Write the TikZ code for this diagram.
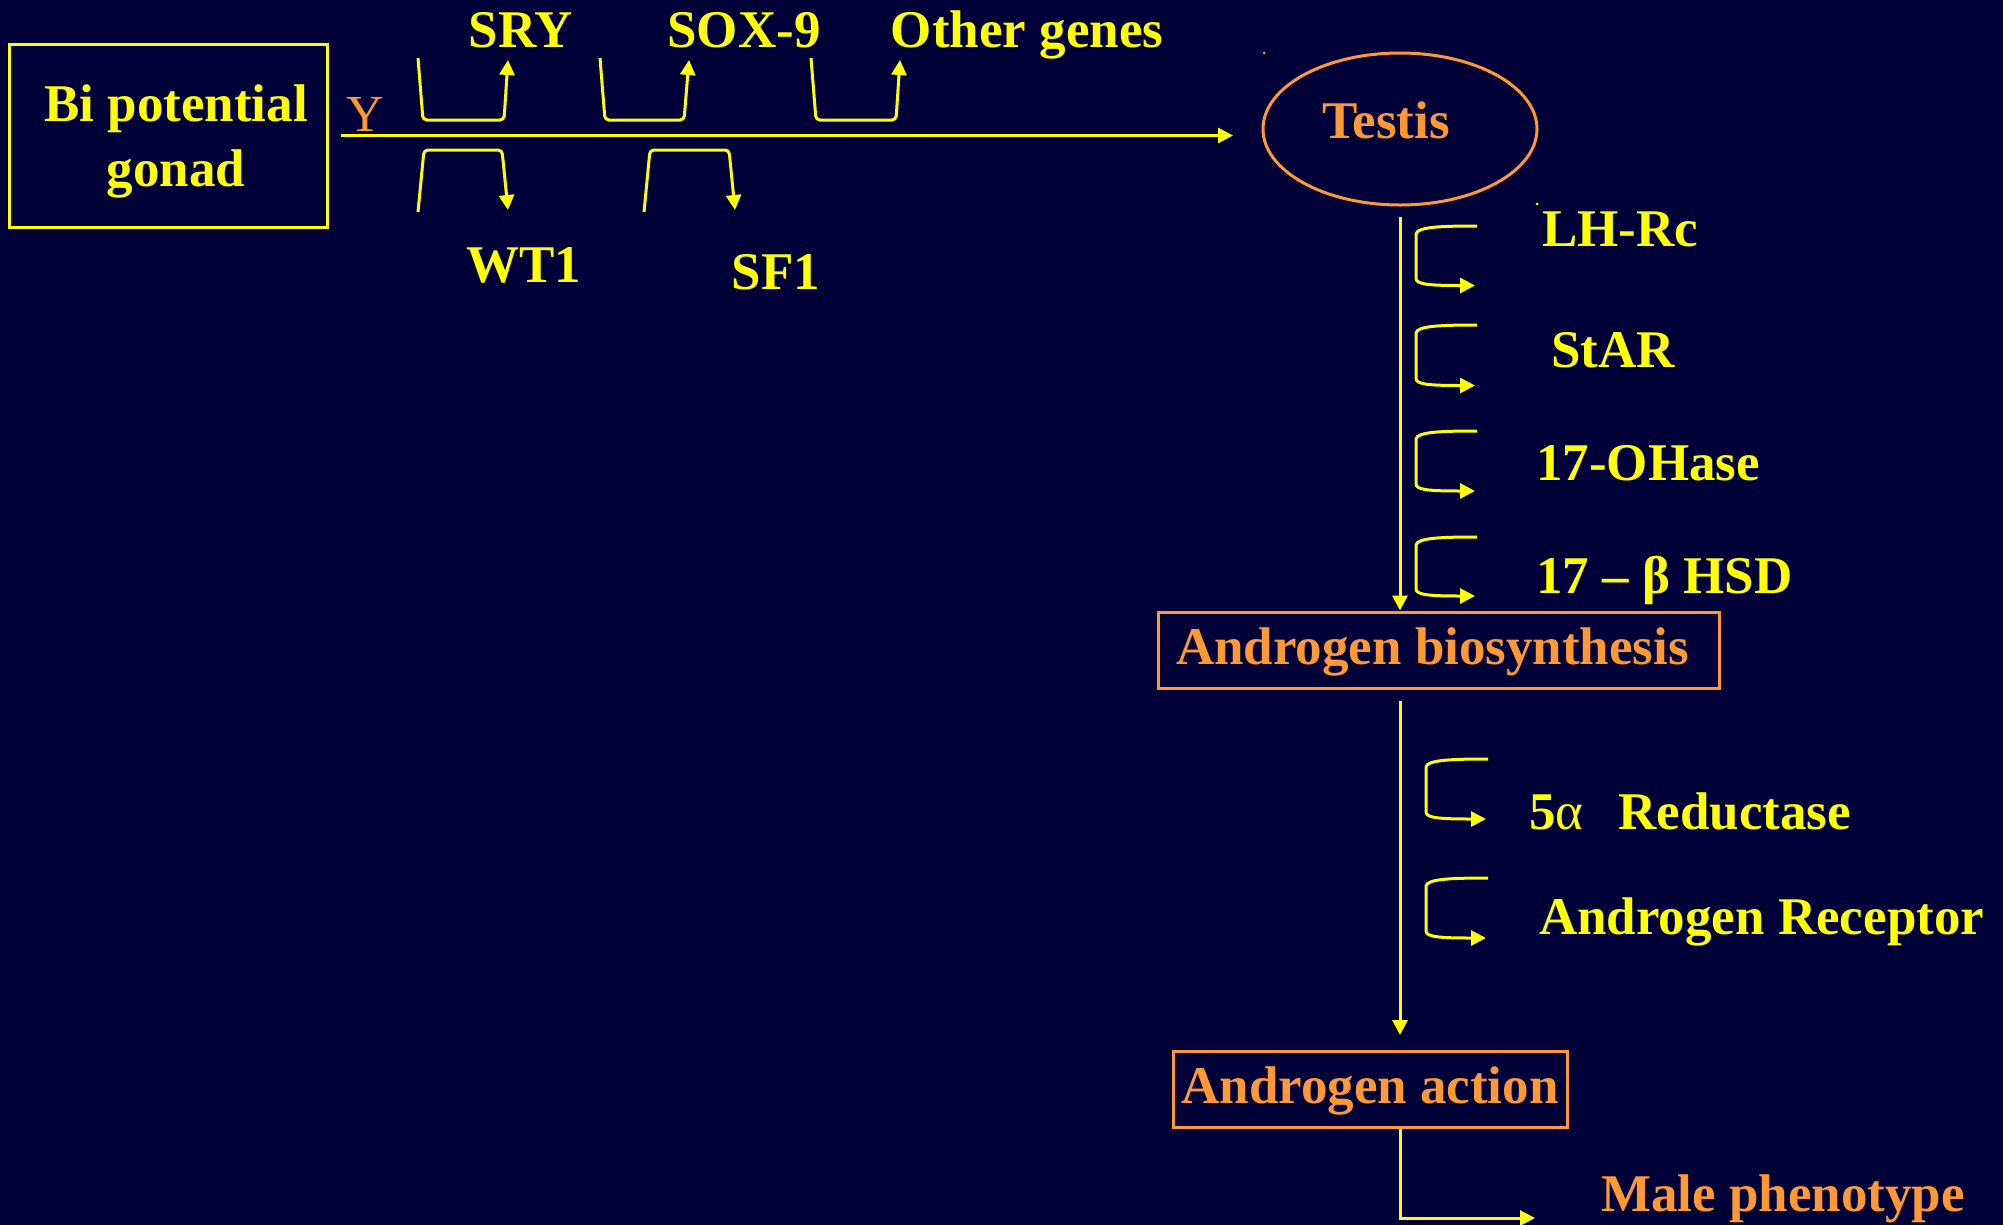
\documentclass[tikz,border=0pt]{standalone}
\usepackage{fontspec}
\setmainfont{Liberation Serif}
\usetikzlibrary{arrows.meta,shapes.geometric}
\definecolor{bgnavy}{RGB}{0,0,56}
\definecolor{gold}{RGB}{255,255,0}
\definecolor{amber}{RGB}{255,153,51}
\begin{document}
\begin{tikzpicture}[x=1pt,y=-1pt,
  bigtext/.style={font=\fontsize{53}{64.5}\selectfont\bfseries},
  flow/.style={draw=gold, line width=3pt, -{Triangle[length=15pt,width=15pt]}},
  hook/.style={draw=gold, line width=3pt, rounded corners=4pt, -{Triangle[length=15pt,width=15pt]}},
  side/.style={draw=gold, line width=3pt, -{Triangle[length=15pt,width=15pt]}},
  gene/.style={bigtext, text=gold, inner sep=0pt},
  outcome/.style={bigtext, text=amber, inner sep=0pt},
  stage/.style={bigtext, draw=amber, line width=3pt, text=amber,
    text height=28pt, text depth=0pt, inner sep=0pt}
]
% background
\useasboundingbox (0,0) rectangle (2003,1224);
\fill[bgnavy] (-6,-6) rectangle (2009,1230);

% starting gonad
\node[bigtext, draw=gold, line width=3pt, text=gold, align=center,
  minimum width=318pt, minimum height=183pt, inner sep=0pt]
  (gonad) at (168,135.5) {\rule{0pt}{49pt}\hspace*{16pt}Bi potential\\\hspace*{16pt}gonad};

\node[text=amber, font=\fontsize{52}{60}\selectfont, anchor=base, inner sep=0pt]
  (ychr) at (365,131) {Y};

% testis
\node[ellipse, draw=amber, line width=3pt, bigtext, text=amber,
  minimum width=274pt, minimum height=152pt, inner sep=0pt,
  text height=18pt, text depth=0pt] (testis) at (1400,129) {Testis\hspace*{28pt}};
\fill[amber] (1264,53) circle (1.5pt);
\fill[gold] (1537,204) circle (1.5pt);

% gonad -> testis
\draw[flow, shorten <=12.5pt, shorten >=28.5pt] (gonad.east) -- (gonad.east -| testis.west);

% genes acting along the way
\node[gene, anchor=base] (sry)   at (521,47)  {SRY};
\node[gene, anchor=base] (sox9)  at (744,47)  {SOX-9};
\node[gene, anchor=base] (other) at (1027,47) {Other genes};
\node[gene, anchor=base] (wt1)   at (524,282) {WT1};
\node[gene, anchor=base] (sf1)   at (776,289) {SF1};

\draw[hook] (418,58) -- (423,120) -- (504,120) -- (508,60);
\draw[hook] (600,58) -- (605,120) -- (684,120) -- (689,60);
\draw[hook] (811,58) -- (816,120) -- (896,120) -- (900,60);
\draw[hook] (418,212) -- (424,150) -- (502,150) -- (508,210);
\draw[hook] (644,212) -- (650,150) -- (729,150) -- (735,210);

% androgen stages
\node[stage, minimum width=561pt, minimum height=76pt] (bio) at (1438.5,650)
  {Androgen biosynthesis\hspace*{12pt}};
\node[stage, minimum width=394pt, minimum height=76pt] (action) at (1370,1089)
  {Androgen action};
\node[outcome, anchor=base west] (male) at (1601,1211) {Male phenotype};

\draw[flow, shorten <=10.5pt] (testis.south) -- (testis.south |- bio.north);
\draw[flow, shorten <=11.5pt, shorten >=14.5pt] (testis.south |- bio.south) -- (testis.south |- action.north);
\coordinate (malein) at (1535,1218);
\draw[flow] (testis.south |- action.south) |- (malein);

% steroidogenic steps
\foreach \t/\b in {226/285.5, 325/385.5, 431/491, 537/596}
  \draw[side] (1477,\t) .. controls (1440,\t) and (1417,\t+1) .. (1416,\t+8)
    -- (1416,\b-7) .. controls (1416,\b-1) and (1430,\b) .. (1475,\b);
\node[gene, anchor=base west] (lhrc)  at (1542,246) {LH-Rc};
\node[gene, anchor=base west] (star)  at (1551,367) {StAR};
\node[gene, anchor=base west] (ohase) at (1536,480) {17-OHase};
\node[gene, anchor=base west] (hsd)   at (1536,593) {17 – β HSD};

% action steps
\foreach \t/\b in {759/819, 878/938}
  \draw[side] (1488,\t) .. controls (1451,\t) and (1427,\t+1) .. (1426,\t+8)
    -- (1426,\b-7) .. controls (1426,\b-1) and (1440,\b) .. (1486,\b);
\node[gene, anchor=base west] (reduct) at (1529,829) {5{\mdseries α}\hspace{35pt}Reductase};
\node[gene, anchor=base west] (arec)   at (1539,934) {Androgen Receptor};
\end{tikzpicture}
\end{document}
